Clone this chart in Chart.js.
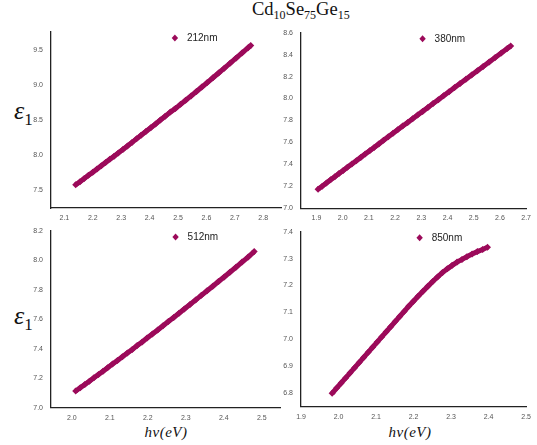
<!DOCTYPE html>
<html>
<head>
<meta charset="utf-8">
<script src="https://cdn.jsdelivr.net/npm/chart.js@4/dist/chart.umd.min.js"></script>
<style>
  html, body { margin: 0; padding: 0; background: #fff; }
  #wrap { position: relative; width: 537px; height: 445px; overflow: hidden; }
  canvas { position: absolute; left: 0; top: 0; }
  .title { position: absolute; left: 252px; top: -1px; font-family: 'Liberation Serif', serif; font-size: 18.5px; color: #111; white-space: nowrap; }
  .title sub { font-size: 12px; vertical-align: -4px; line-height: 0; }
  .eps { position: absolute; left: 14px; font-family: 'Liberation Serif', serif; color: #111; white-space: nowrap; }
  .eps i { font-size: 26px; }
  .eps sub { font-size: 17px; vertical-align: -6px; line-height: 0; }
  .hv { position: absolute; width: 100px; text-align: center; font-family: 'Liberation Serif', serif; font-style: italic; font-size: 15px; letter-spacing: 0.5px; color: #111; }
</style>
</head>
<body>
<div id="wrap">
  <div class="title">Cd<sub>10</sub>Se<sub>75</sub>Ge<sub>15</sub></div>
  <div class="eps" style="top:96px"><i>ε</i><sub>1</sub></div>
  <div class="eps" style="top:301px"><i>ε</i><sub>1</sub></div>
  <div class="hv" style="left:116px; top:424px">hν(eV)</div>
  <div class="hv" style="left:360px; top:424px">hν(eV)</div>
  <canvas id="c1" width="537" height="445"></canvas>
  <canvas id="c2" width="537" height="445"></canvas>
  <canvas id="c3" width="537" height="445"></canvas>
  <canvas id="c4" width="537" height="445"></canvas>
</div>
<script>
const markColor = '#9c0a5a';

// 212nm
const hv212 = [2.140, 2.155, 2.170, 2.185, 2.200, 2.215, 2.230, 2.245, 2.260, 2.275, 2.290, 2.306, 2.322, 2.338, 2.354, 2.370, 2.387, 2.404, 2.421, 2.438, 2.455, 2.473, 2.491, 2.509, 2.527, 2.546, 2.565, 2.584, 2.603, 2.623, 2.643, 2.663, 2.684, 2.705, 2.726, 2.747, 2.756];
const eps212 = [7.580, 7.624, 7.669, 7.714, 7.759, 7.804, 7.849, 7.895, 7.941, 7.986, 8.033, 8.082, 8.132, 8.182, 8.232, 8.282, 8.336, 8.390, 8.444, 8.499, 8.554, 8.612, 8.665, 8.722, 8.780, 8.842, 8.905, 8.968, 9.032, 9.100, 9.168, 9.236, 9.308, 9.381, 9.454, 9.527, 9.558];

// 380nm
const hv380 = [1.906, 1.922, 1.938, 1.954, 1.970, 1.986, 2.002, 2.018, 2.035, 2.052, 2.069, 2.086, 2.103, 2.120, 2.138, 2.156, 2.174, 2.192, 2.210, 2.229, 2.248, 2.267, 2.286, 2.305, 2.325, 2.345, 2.365, 2.385, 2.406, 2.427, 2.448, 2.470, 2.492, 2.514, 2.536, 2.559, 2.582, 2.605, 2.628, 2.641];
const eps380 = [7.173, 7.202, 7.231, 7.260, 7.288, 7.317, 7.345, 7.374, 7.404, 7.434, 7.464, 7.494, 7.525, 7.555, 7.587, 7.619, 7.651, 7.683, 7.715, 7.749, 7.782, 7.816, 7.850, 7.883, 7.919, 7.954, 7.990, 8.025, 8.063, 8.100, 8.137, 8.176, 8.215, 8.254, 8.293, 8.334, 8.375, 8.415, 8.456, 8.479];

// 512nm
const hv512 = [2.010, 2.022, 2.034, 2.046, 2.058, 2.070, 2.082, 2.094, 2.107, 2.120, 2.133, 2.146, 2.159, 2.172, 2.185, 2.198, 2.212, 2.226, 2.240, 2.254, 2.268, 2.282, 2.296, 2.311, 2.326, 2.341, 2.356, 2.371, 2.386, 2.401, 2.416, 2.432, 2.448, 2.464, 2.480];
const eps512 = [7.113, 7.135, 7.158, 7.180, 7.203, 7.225, 7.248, 7.271, 7.296, 7.321, 7.346, 7.371, 7.396, 7.422, 7.447, 7.473, 7.501, 7.528, 7.557, 7.585, 7.613, 7.641, 7.670, 7.701, 7.732, 7.763, 7.794, 7.825, 7.857, 7.888, 7.920, 7.954, 7.989, 8.023, 8.060];

// 850nm
const hv850 = [1.983, 1.995, 2.007, 2.019, 2.031, 2.043, 2.055, 2.067, 2.079, 2.091, 2.103, 2.115, 2.127, 2.139, 2.151, 2.163, 2.175, 2.187, 2.199, 2.212, 2.225, 2.238, 2.251, 2.264, 2.277, 2.290, 2.303, 2.316, 2.329, 2.342, 2.356, 2.370, 2.384, 2.397];
const eps850 = [6.800, 6.819, 6.838, 6.857, 6.876, 6.895, 6.914, 6.933, 6.952, 6.971, 6.990, 7.009, 7.028, 7.047, 7.066, 7.085, 7.104, 7.123, 7.141, 7.160, 7.179, 7.197, 7.215, 7.232, 7.248, 7.262, 7.275, 7.287, 7.297, 7.307, 7.317, 7.326, 7.334, 7.342];

// tick labels
const xTicks212 = [2.1, 2.2, 2.3, 2.4, 2.5, 2.6, 2.7, 2.8];
const yTicks212 = [7.5, 8.0, 8.5, 9.0, 9.5];
const xTicks380 = [1.9, 2.0, 2.1, 2.2, 2.3, 2.4, 2.5, 2.6, 2.7];
const yTicks380 = [7.0, 7.2, 7.4, 7.6, 7.8, 8.0, 8.2, 8.4, 8.6];
const xTicks512 = [2.0, 2.1, 2.2, 2.3, 2.4, 2.5];
const yTicks512 = [7.0, 7.2, 7.4, 7.6, 7.8, 8.0, 8.2];
const xTicks850 = [1.9, 2.0, 2.1, 2.2, 2.3, 2.4, 2.5];
const yTicks850 = [6.8, 6.9, 7.0, 7.1, 7.2, 7.3, 7.4];

// axis limits [xmin, xmax, ymin, ymax]
const range212 = [2.053, 2.865, 7.25, 9.75];
const range380 = [1.841, 2.70, 7.0, 8.6];
const range512 = [1.945, 2.548, 7.0, 8.2];
const range850 = [1.90, 2.50, 6.75, 7.4];

const cornerLegend = {
    id: 'cornerLegend',
    afterDraw(chart, args, opts) {
        const a = chart.chartArea;
        const ctx = chart.ctx;
        const x = a.left + opts.fx * (a.right - a.left);
        const y = a.top + 6;
        ctx.save();
        ctx.fillStyle = markColor;
        ctx.beginPath();
        ctx.moveTo(x, y - 3.5);
        ctx.lineTo(x + 3.2, y);
        ctx.lineTo(x, y + 3.5);
        ctx.lineTo(x - 3.2, y);
        ctx.closePath();
        ctx.fill();
        ctx.fillStyle = '#222';
        ctx.font = '10px "Liberation Sans", Arial, sans-serif';
        ctx.textBaseline = 'middle';
        ctx.fillText(opts.text, x + 12, y + 0.5);
        ctx.restore();
    }
};

function makePanel(id, hv, eps, name, xTicks, yTicks, range, box, fx) {
    const yW = 30, xH = 20;
    const ctx = document.getElementById(id).getContext('2d');
    return new Chart(ctx, {
        type: 'scatter',
        data: {
            datasets: [{
                label: name,
                data: hv.map((v, i) => ({ x: v, y: eps[i] })),
                showLine: true,
                borderColor: markColor,
                backgroundColor: markColor,
                borderWidth: 5,
                pointStyle: 'rectRot',
                pointRadius: 3.5,
                pointBorderWidth: 0,
                tension: 0
            }]
        },
        options: {
            responsive: false,
            animation: false,
            events: [],
            layout: {
                padding: { left: box[0] - yW, top: box[1], right: 537 - box[2], bottom: 445 - box[3] - xH }
            },
            plugins: {
                legend: { display: false },
                tooltip: { enabled: false },
                cornerLegend: { text: name, fx: fx }
            },
            scales: {
                x: {
                    type: 'linear',
                    min: range[0], max: range[1],
                    grid: { display: false, drawTicks: false },
                    border: { display: true, color: '#222', width: 1.3 },
                    afterBuildTicks: s => { s.ticks = xTicks.map(v => ({ value: v })); },
                    afterFit: s => { s.height = xH; },
                    ticks: {
                        color: '#555', padding: 6, maxRotation: 0, autoSkip: false,
                        font: { family: '"Liberation Sans", Arial, sans-serif', size: 7 },
                        callback: v => v.toFixed(1)
                    }
                },
                y: {
                    type: 'linear',
                    min: range[2], max: range[3],
                    grid: { display: false, drawTicks: false },
                    border: { display: true, color: '#222', width: 1.3 },
                    afterBuildTicks: s => { s.ticks = yTicks.map(v => ({ value: v })); },
                    afterFit: s => { s.width = yW; },
                    ticks: {
                        color: '#555', padding: 8, autoSkip: false,
                        font: { family: '"Liberation Sans", Arial, sans-serif', size: 7 },
                        callback: v => v.toFixed(1)
                    }
                }
            }
        },
        plugins: [cornerLegend]
    });
}

makePanel('c1', hv212, eps212, '212nm', xTicks212, yTicks212, range212, [51, 32, 281.7, 208], 0.537);
makePanel('c2', hv380, eps380, '380nm', xTicks380, yTicks380, range380, [301, 32.7, 531, 208.3], 0.54);
makePanel('c3', hv512, eps512, '512nm', xTicks512, yTicks512, range512, [51, 231, 280, 407.7], 0.544);
makePanel('c4', hv850, eps850, '850nm', xTicks850, yTicks850, range850, [301, 231.7, 531, 406.7], 0.527);
</script>
</body>
</html>
